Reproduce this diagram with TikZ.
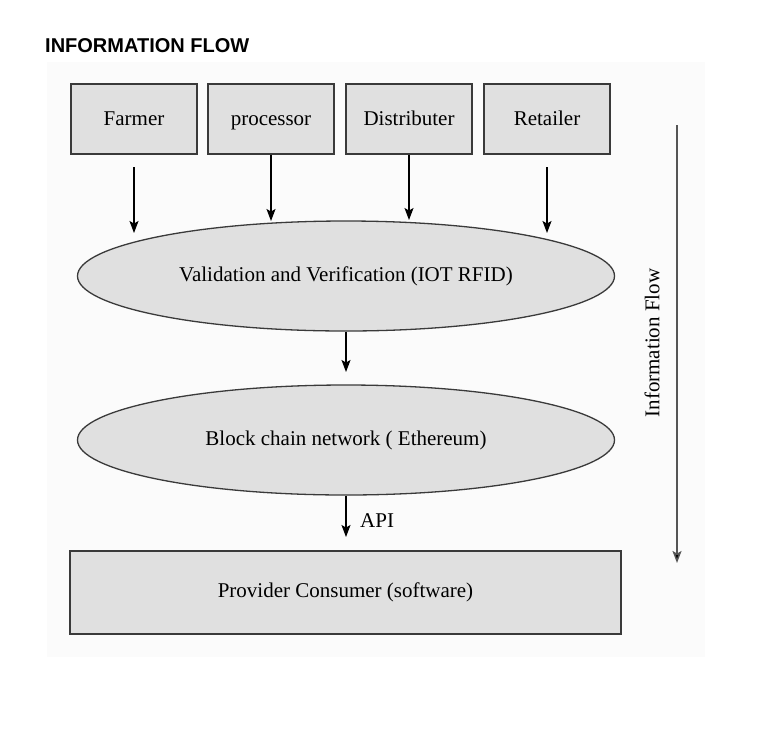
\documentclass[tikz,border=0pt]{standalone}
\usepackage{fontspec}
\setmainfont{Liberation Serif}
\newfontfamily\titlefont{Liberation Sans}
\usetikzlibrary{shapes.geometric,arrows.meta,calc}
\definecolor{boxfill}{HTML}{E0E0E0}
\definecolor{boxline}{HTML}{3A3A3A}
\definecolor{bgfill}{HTML}{FBFBFB}
\definecolor{flowline}{HTML}{555555}
\begin{document}
\begin{tikzpicture}[x=1pt,y=-1pt,
  txt/.style={font=\fontsize{21}{25}\selectfont},
  actor/.style={txt,draw=boxline,fill=boxfill,line width=1.3pt,minimum width=126pt,minimum height=70pt,inner sep=0pt,text height=17pt,text depth=4pt},
  oval/.style={txt,ellipse,draw=boxline,fill=boxfill,line width=1.3pt,minimum width=537pt,minimum height=110pt,inner sep=0pt},
  wide/.style={txt,draw=boxline,fill=boxfill,line width=1.3pt,minimum width=551pt,minimum height=83pt,inner sep=0pt},
  arr/.style={line width=1.2pt,-{Stealth[length=12pt,width=9pt,inset=2.5pt]}},
  flowarr/.style={draw=flowline,line width=1.5pt,-{Stealth[length=12pt,width=9pt,inset=2.5pt,fill=black]}}]
\useasboundingbox (0,0) rectangle (759,750);
\fill[bgfill] (47,62) rectangle (705,657);
\node[anchor=base west,inner sep=0pt,font=\titlefont\bfseries\fontsize{20}{24}\selectfont] (title) at (45,52) {INFORMATION FLOW};
\node[actor] (farmer) at (134,119) {Farmer};
\node[actor] (proc) at (271,119) {processor};
\node[actor] (dist) at (409,119) {Distributer};
\node[actor] (ret) at (547,119) {Retailer};
\node[oval] (valid) at (346,276) {Validation and Verification (IOT RFID)};
\node[oval] (chain) at (346,440) {Block chain network ( Ethereum)};
\node[wide] (prov) at (345.5,592.5) {Provider Consumer (software)};
\coordinate (f1) at (134,167);
\coordinate (f2) at (134,233);
\coordinate (r1) at (547,167);
\coordinate (r2) at (547,233);
\coordinate (p2) at (271,221);
\coordinate (d2) at (409,220);
\coordinate (v2) at (346,372);
\coordinate (c2) at (346,537);
\draw[arr] (f1) -- (f2);
\draw[arr] (proc.south) -- (p2);
\draw[arr] (dist.south) -- (d2);
\draw[arr] (r1) -- (r2);
\draw[arr] (valid.south) -- (v2);
\draw[arr] (chain.south) -- (c2);
\node[txt,anchor=west,inner sep=0pt] (api) at (360,521) {API};
\coordinate (ftop) at (677,125);
\coordinate (fbot) at (677,563);
\draw[flowarr] (ftop) -- (fbot);
\node[txt,rotate=90,inner sep=0pt] (flowlbl) at (652,343) {Information Flow};
\end{tikzpicture}
\end{document}
